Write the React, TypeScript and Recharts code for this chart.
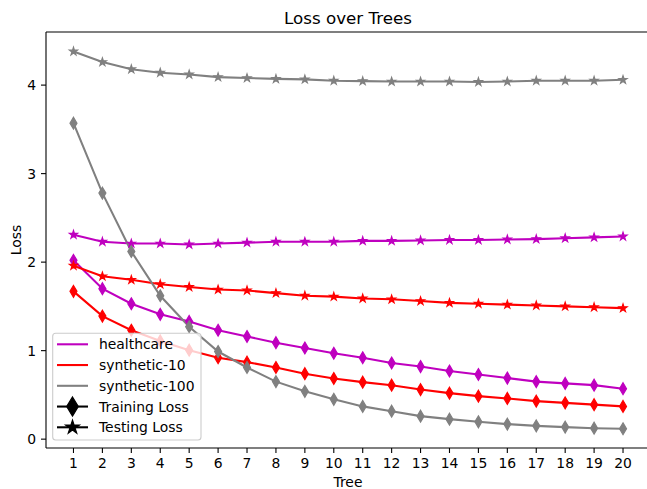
import React from "react";
import { LineChart, Line, XAxis, YAxis, ReferenceLine } from "recharts";

const trees = [1, 2, 3, 4, 5, 6, 7, 8, 9, 10, 11, 12, 13, 14, 15, 16, 17, 18, 19, 20];
const yTicks = [0, 1, 2, 3, 4];

const healthcareTrain = [2.02, 1.70, 1.53, 1.41, 1.33, 1.23, 1.16, 1.09, 1.03, 0.97, 0.92, 0.86, 0.82, 0.77, 0.73, 0.69, 0.65, 0.63, 0.61, 0.57];
const healthcareTest = [2.31, 2.23, 2.21, 2.21, 2.20, 2.21, 2.22, 2.23, 2.23, 2.23, 2.24, 2.24, 2.245, 2.25, 2.25, 2.256, 2.26, 2.27, 2.28, 2.29];
const syn10Train = [1.67, 1.39, 1.23, 1.11, 1.005, 0.92, 0.87, 0.81, 0.74, 0.685, 0.644, 0.61, 0.56, 0.52, 0.486, 0.46, 0.43, 0.41, 0.39, 0.37];
const syn10Test = [1.96, 1.84, 1.80, 1.75, 1.72, 1.69, 1.68, 1.65, 1.62, 1.61, 1.59, 1.58, 1.56, 1.54, 1.53, 1.52, 1.51, 1.50, 1.49, 1.48];
const syn100Train = [3.57, 2.78, 2.12, 1.62, 1.27, 0.99, 0.81, 0.65, 0.54, 0.45, 0.37, 0.316, 0.26, 0.226, 0.196, 0.17, 0.15, 0.136, 0.124, 0.117];
const syn100Test = [4.38, 4.26, 4.18, 4.14, 4.12, 4.09, 4.08, 4.07, 4.065, 4.05, 4.045, 4.04, 4.04, 4.04, 4.035, 4.04, 4.05, 4.05, 4.05, 4.06];

const seriesNames = ["healthcare", "synthetic-10", "synthetic-100"];
const seriesColors = ["#bf00bf", "#ff0000", "#808080"];
const markerLegend = ["Training Loss", "Testing Loss"];

const data = trees.map((t, i) => ({
  tree: t,
  hcTrain: healthcareTrain[i],
  hcTest: healthcareTest[i],
  s10Train: syn10Train[i],
  s10Test: syn10Test[i],
  s100Train: syn100Train[i],
  s100Test: syn100Test[i],
}));

const FONT = "DejaVu Sans, sans-serif";

function diamondPath(cx: number, cy: number, hh: number, hw: number) {
  return `M${cx},${cy - hh}L${cx + hw},${cy}L${cx},${cy + hh}L${cx - hw},${cy}Z`;
}
function starPath(cx: number, cy: number, r: number) {
  const ri = r * 0.381966;
  let d = "";
  for (let k = 0; k < 10; k++) {
    const rr = k % 2 === 0 ? r : ri;
    const a = -Math.PI / 2 + (k * Math.PI) / 5;
    d += (k === 0 ? "M" : "L") + (cx + rr * Math.cos(a)).toFixed(2) + "," + (cy + rr * Math.sin(a)).toFixed(2);
  }
  return d + "Z";
}

const makeDiamond = (color: string) => (props: any) => {
  const { cx, cy, index } = props;
  if (cx == null || cy == null) return <g key={index} />;
  return <path key={index} d={diamondPath(cx, cy, 5.9, 3.5)} fill={color} stroke={color} strokeWidth={1.2} strokeLinejoin="miter" />;
};
const makeStar = (color: string) => (props: any) => {
  const { cx, cy, index } = props;
  if (cx == null || cy == null) return <g key={index} />;
  return <path key={index} d={starPath(cx, cy, 4.2)} fill={color} stroke={color} strokeWidth={1.2} strokeLinejoin="miter" />;
};

const lines = [
  { key: "hcTrain", color: seriesColors[0], marker: "d" },
  { key: "hcTest", color: seriesColors[0], marker: "*" },
  { key: "s10Train", color: seriesColors[1], marker: "d" },
  { key: "s10Test", color: seriesColors[1], marker: "*" },
  { key: "s100Train", color: seriesColors[2], marker: "d" },
  { key: "s100Test", color: seriesColors[2], marker: "*" },
];

const tickStyle = { fontFamily: FONT, fontSize: 13.9, fill: "#000" };

export default function App() {
  const legendRows = [
    ...seriesNames.map((n, i) => ({ label: n, color: seriesColors[i], marker: "" })),
    { label: markerLegend[0], color: "#000", marker: "d" },
    { label: markerLegend[1], color: "#000", marker: "*" },
  ];
  return (
    <div style={{ position: "absolute", left: 0, top: 0, width: 647, height: 489, overflow: "hidden", background: "#fff" }}>
      <LineChart width={652} height={489} data={data} margin={{ top: 32, right: 1.5, bottom: 0, left: 0 }}>
        <XAxis
          dataKey="tree"
          type="number"
          domain={[0.05, 20.95]}
          ticks={trees}
          allowDataOverflow
          height={41}
          tickSize={5}
          tickMargin={5}
          stroke="#000"
          strokeWidth={1.1}
          tick={tickStyle}
          interval={0}
        />
        <YAxis
          type="number"
          domain={[-0.1, 4.6]}
          ticks={yTicks}
          allowDataOverflow
          width={46}
          tickSize={5}
          tickMargin={5}
          stroke="#000"
          strokeWidth={1.1}
          tick={tickStyle}
          interval={0}
        />
        <ReferenceLine y={4.6} stroke="#000" strokeWidth={1.1} ifOverflow="visible" />
        {lines.map((l) => (
          <Line
            key={l.key}
            type="linear"
            dataKey={l.key}
            stroke={l.color}
            strokeWidth={2.08}
            dot={l.marker === "d" ? makeDiamond(l.color) : makeStar(l.color)}
            activeDot={false}
            isAnimationActive={false}
          />
        ))}
      </LineChart>
      <svg width={647} height={489} style={{ position: "absolute", left: 0, top: 0, pointerEvents: "none" }}>
        <text x={348} y={24} textAnchor="middle" fontFamily={FONT} fontSize={16.7} fill="#000">
          Loss over Trees
        </text>
        <text x={348} y={487} textAnchor="middle" fontFamily={FONT} fontSize={13.9} fill="#000">
          Tree
        </text>
        <text x={21} y={240} textAnchor="middle" fontFamily={FONT} fontSize={13.9} fill="#000" transform="rotate(-90 21 240)">
          Loss
        </text>
        <rect x={52.7} y={333.3} width={148.3} height={106.7} rx={3} ry={3} fill="#fff" fillOpacity={0.8} stroke="#cccccc" strokeWidth={1.1} />
        {legendRows.map((r, i) => {
          const cy = 344.3 + i * 20.75;
          return (
            <g key={r.label}>
              <line x1={57} y1={cy} x2={88} y2={cy} stroke={r.color} strokeWidth={2.08} />
              {r.marker === "d" && <path d={diamondPath(72.5, cy, 9.6, 5.8)} fill="#000" stroke="#000" strokeWidth={1.2} />}
              {r.marker === "*" && <path d={starPath(72.5, cy, 7.2)} fill="#000" stroke="#000" strokeWidth={1.2} />}
              <text x={99} y={cy} dominantBaseline="central" fontFamily={FONT} fontSize={13.9} fill="#000">
                {r.label}
              </text>
            </g>
          );
        })}
      </svg>
    </div>
  );
}
